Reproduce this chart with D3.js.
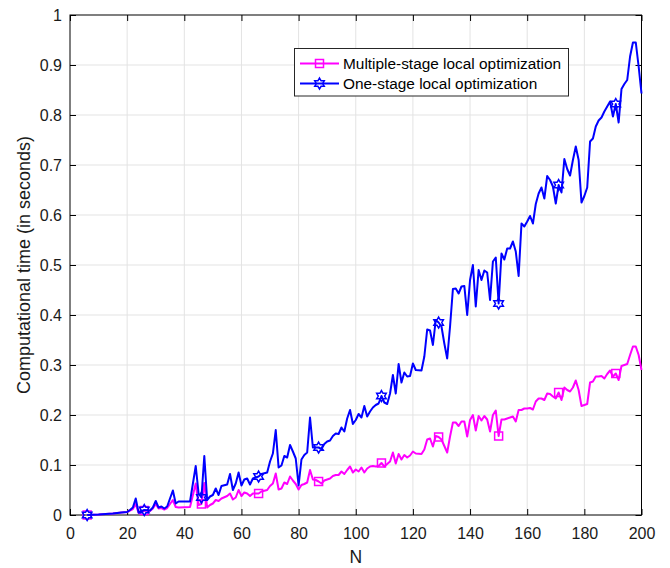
<!DOCTYPE html>
<html>
<head>
<meta charset="utf-8">
<script src="https://cdn.jsdelivr.net/npm/d3@7"></script>
<style>
  body { margin: 0; background: #fff; }
  svg { display: block; font-family: "Liberation Sans", Arial, Helvetica, sans-serif; }
</style>
</head>
<body>
<script>
// problem size N (shared by both series)
const N = [
  6, 10, 15, 18, 20, 21, 22, 23, 24, 26, 28, 29, 30, 31, 32, 33, 34, 36, 37, 38,
  42, 44, 45, 46, 47, 48, 49, 50, 51, 52, 53, 55, 56, 57, 58, 59, 60, 61, 62, 63,
  64, 66, 67, 69, 70, 71, 72, 73, 74, 75, 76, 77, 78, 79, 80, 81, 82, 83, 84, 85,
  86, 87, 88, 89, 90, 91, 92, 93, 94, 95, 96, 97, 98, 99, 100, 101, 102, 103, 104, 105,
  106, 107, 108, 109, 110, 111, 112, 113, 114, 115, 116, 117, 118, 119, 120, 121, 123, 124, 125, 126,
  127, 128, 129, 130, 131, 132, 133, 134, 135, 136, 137, 138, 139, 140, 141, 142, 143, 144, 145, 146,
  147, 148, 149, 150, 151, 152, 153, 154, 155, 156, 157, 158, 159, 160, 161, 162, 163, 164, 165, 166,
  167, 168, 169, 170, 171, 172, 173, 174, 175, 176, 177, 178, 179, 180, 181, 182, 183, 184, 185, 186,
  187, 188, 189, 190, 191, 192, 193, 194, 195, 196, 197, 198, 199, 200
];

// one-stage local optimization (blue)
const oneStage = [
  0, 0.001, 0.003, 0.005, 0.006, 0.01, 0.015, 0.033, 0.005, 0.01, 0.009, 0.015, 0.028, 0.015, 0.017, 0.013, 0.017, 0.049, 0.023, 0.027,
  0.027, 0.098, 0.043, 0.035, 0.118, 0.03, 0.037, 0.04, 0.053, 0.04, 0.058, 0.061, 0.082, 0.05, 0.063, 0.085, 0.059, 0.071, 0.073, 0.061,
  0.073, 0.077, 0.082, 0.085, 0.107, 0.123, 0.17, 0.095, 0.099, 0.118, 0.115, 0.14, 0.127, 0.113, 0.059, 0.111, 0.12, 0.125, 0.195, 0.135,
  0.135, 0.135, 0.132, 0.142, 0.147, 0.149, 0.158, 0.163, 0.162, 0.175, 0.167, 0.193, 0.21, 0.182, 0.19, 0.202, 0.195, 0.218, 0.197, 0.207,
  0.215, 0.22, 0.223, 0.238, 0.225, 0.222, 0.243, 0.28, 0.243, 0.302, 0.265, 0.285, 0.277, 0.278, 0.303, 0.29, 0.289, 0.317, 0.371, 0.369,
  0.34, 0.39, 0.385, 0.377, 0.343, 0.313, 0.377, 0.452, 0.453, 0.443, 0.457, 0.458, 0.4, 0.47, 0.5, 0.417, 0.49, 0.47, 0.489, 0.485,
  0.43, 0.507, 0.515, 0.423, 0.523, 0.511, 0.533, 0.533, 0.547, 0.527, 0.478, 0.583, 0.577, 0.587, 0.598, 0.583, 0.622, 0.643, 0.655, 0.633,
  0.678, 0.67, 0.657, 0.623, 0.66, 0.645, 0.712, 0.692, 0.679, 0.71, 0.737, 0.71, 0.625, 0.638, 0.655, 0.747, 0.753, 0.777, 0.789, 0.795,
  0.807, 0.817, 0.827, 0.797, 0.822, 0.785, 0.852, 0.862, 0.87, 0.917, 0.945, 0.945, 0.897, 0.843
];

// multiple-stage local optimization (magenta)
const multiStage = [
  0, 0.001, 0.003, 0.005, 0.006, 0.009, 0.012, 0.022, 0.004, 0.009, 0.008, 0.013, 0.022, 0.013, 0.014, 0.011, 0.014, 0.03, 0.016, 0.015,
  0.016, 0.063, 0.02, 0.022, 0.064, 0.015, 0.02, 0.023, 0.03, 0.028, 0.033, 0.038, 0.043, 0.031, 0.035, 0.05, 0.038, 0.045, 0.043, 0.038,
  0.043, 0.043, 0.047, 0.05, 0.058, 0.063, 0.083, 0.051, 0.053, 0.065, 0.062, 0.077, 0.069, 0.062, 0.051, 0.06, 0.062, 0.065, 0.09, 0.071,
  0.07, 0.067, 0.063, 0.069, 0.071, 0.073, 0.078, 0.08, 0.08, 0.087, 0.082, 0.09, 0.097, 0.085, 0.091, 0.087, 0.095, 0.085, 0.093, 0.097,
  0.098, 0.097, 0.098, 0.104, 0.097, 0.102, 0.107, 0.125, 0.103, 0.122, 0.111, 0.12, 0.115, 0.119, 0.127, 0.123, 0.122, 0.131, 0.151, 0.153,
  0.137, 0.158, 0.156, 0.151, 0.138, 0.125, 0.157, 0.185, 0.185, 0.178, 0.187, 0.187, 0.157, 0.19, 0.2, 0.169, 0.198, 0.189, 0.198, 0.191,
  0.167, 0.2, 0.209, 0.158, 0.191, 0.191, 0.193, 0.195, 0.197, 0.187, 0.21, 0.21, 0.213, 0.213, 0.214, 0.211, 0.227, 0.233, 0.233, 0.23,
  0.243, 0.242, 0.237, 0.233, 0.245, 0.23, 0.255, 0.25, 0.247, 0.255, 0.269, 0.25, 0.218, 0.22, 0.222, 0.265, 0.267, 0.277, 0.277, 0.278,
  0.273, 0.282, 0.289, 0.277, 0.283, 0.27, 0.298, 0.3, 0.302, 0.32, 0.337, 0.337, 0.32, 0.29
];

// N values that carry a marker
const markerN = [6, 26, 46, 66, 87, 109, 129, 150, 171, 191];

const xTicks = [0, 20, 40, 60, 80, 100, 120, 140, 160, 180, 200];
const yTicks = [0, 0.1, 0.2, 0.3, 0.4, 0.5, 0.6, 0.7, 0.8, 0.9, 1];
const seriesNames = ["Multiple-stage local optimization", "One-stage local optimization"];

const width = 670;
const height = 568;
const plotLeft = 70, plotRight = 641.5, plotTop = 15, plotBottom = 515;
const magenta = "#ff00ff";
const blue = "#0000ff";

const svg = d3.select("body").append("svg")
  .attr("width", width)
  .attr("height", height);

const x = d3.scaleLinear().domain([0, 200]).range([plotLeft, plotRight]);
const y = d3.scaleLinear().domain([0, 1]).range([plotBottom, plotTop]);

// grid
svg.append("g").selectAll("line").data(xTicks.slice(1, -1)).join("line")
  .attr("x1", d => x(d)).attr("x2", d => x(d))
  .attr("y1", plotTop).attr("y2", plotBottom)
  .attr("stroke", "#e3e3e3").attr("stroke-width", 1);
svg.append("g").selectAll("line").data(yTicks.slice(1, -1)).join("line")
  .attr("x1", plotLeft).attr("x2", plotRight)
  .attr("y1", d => y(d)).attr("y2", d => y(d))
  .attr("stroke", "#e3e3e3").attr("stroke-width", 1);

// axes (ticks pointing inward, mirrored on top/right)
const fmtY = d => (d === 0 || d === 1) ? String(d) : d3.format(".1f")(d);

svg.append("g")
  .attr("transform", `translate(0,${plotBottom})`)
  .call(d3.axisBottom(x).tickValues(xTicks).tickSize(-6).tickPadding(13))
  .call(g => g.select(".domain").remove());
svg.append("g")
  .attr("transform", `translate(${plotLeft},0)`)
  .call(d3.axisLeft(y).tickValues(yTicks).tickFormat(fmtY).tickSize(-6).tickPadding(8))
  .call(g => g.select(".domain").remove());
svg.append("g")
  .attr("transform", `translate(0,${plotTop})`)
  .call(d3.axisTop(x).tickValues(xTicks).tickSize(-6).tickFormat(""))
  .call(g => g.select(".domain").remove());
svg.append("g")
  .attr("transform", `translate(${plotRight},0)`)
  .call(d3.axisRight(y).tickValues(yTicks).tickSize(-6).tickFormat(""))
  .call(g => g.select(".domain").remove());

svg.selectAll(".tick text")
  .attr("font-size", 16)
  .attr("font-family", "Liberation Sans, Arial, sans-serif")
  .attr("fill", "#1a1a1a");
svg.selectAll(".tick line").attr("stroke", "#000");

svg.append("rect")
  .attr("x", plotLeft).attr("y", plotTop)
  .attr("width", plotRight - plotLeft).attr("height", plotBottom - plotTop)
  .attr("fill", "none").attr("stroke", "#000").attr("stroke-width", 1);

// axis labels
svg.append("text")
  .attr("x", (plotLeft + plotRight) / 2).attr("y", 563)
  .attr("text-anchor", "middle")
  .attr("font-size", 17.5).attr("fill", "#1a1a1a")
  .text("N");
svg.append("text")
  .attr("transform", `translate(30,${(plotTop + plotBottom) / 2}) rotate(-90)`)
  .attr("text-anchor", "middle")
  .attr("font-size", 18).attr("fill", "#1a1a1a")
  .text("Computational time (in seconds)");

// markers
function hexagram(r) {
  const pts = [];
  for (let i = 0; i < 12; i++) {
    const a = -Math.PI / 2 + i * Math.PI / 6;
    const rr = i % 2 === 0 ? r : r / Math.sqrt(3);
    pts.push([rr * Math.cos(a), rr * Math.sin(a)]);
  }
  return "M" + pts.map(p => p.join(",")).join("L") + "Z";
}
const squarePath = s => `M${-s / 2},${-s / 2}h${s}v${s}h${-s}Z`;

const dataMulti = N.map((n, i) => ({ n, v: multiStage[i] }));
const dataOne = N.map((n, i) => ({ n, v: oneStage[i] }));

const line = d3.line().x(d => x(d.n)).y(d => y(d.v));

const plot = svg.append("g");

function drawSeries(data, color, shape) {
  plot.append("path")
    .datum(data)
    .attr("d", line)
    .attr("fill", "none")
    .attr("stroke", color)
    .attr("stroke-width", 2)
    .attr("stroke-linejoin", "round");
  plot.append("g").selectAll("path")
    .data(data.filter(d => markerN.includes(d.n)))
    .join("path")
    .attr("transform", d => `translate(${x(d.n)},${y(d.v)})`)
    .attr("d", shape)
    .attr("fill", "none")
    .attr("stroke", color)
    .attr("stroke-width", 1.5);
}

drawSeries(dataMulti, magenta, squarePath(8));
drawSeries(dataOne, blue, hexagram(5.5));

// legend
const legend = svg.append("g");
legend.append("rect")
  .attr("x", 294.5).attr("y", 48.5)
  .attr("width", 274).attr("height", 47.5)
  .attr("fill", "#fff").attr("stroke", "#262626").attr("stroke-width", 1);

const legendRows = [
  { name: seriesNames[0], color: magenta, shape: squarePath(8), y: 63.5 },
  { name: seriesNames[1], color: blue, shape: hexagram(5.5), y: 83.5 }
];
legendRows.forEach(r => {
  legend.append("line")
    .attr("x1", 300).attr("x2", 339)
    .attr("y1", r.y).attr("y2", r.y)
    .attr("stroke", r.color).attr("stroke-width", 2);
  legend.append("path")
    .attr("transform", `translate(319.5,${r.y})`)
    .attr("d", r.shape)
    .attr("fill", "none").attr("stroke", r.color).attr("stroke-width", 1.5);
  legend.append("text")
    .attr("x", 343).attr("y", r.y)
    .attr("dy", "0.35em")
    .attr("font-size", 15.4).attr("fill", "#000")
    .text(r.name);
});
</script>
</body>
</html>
